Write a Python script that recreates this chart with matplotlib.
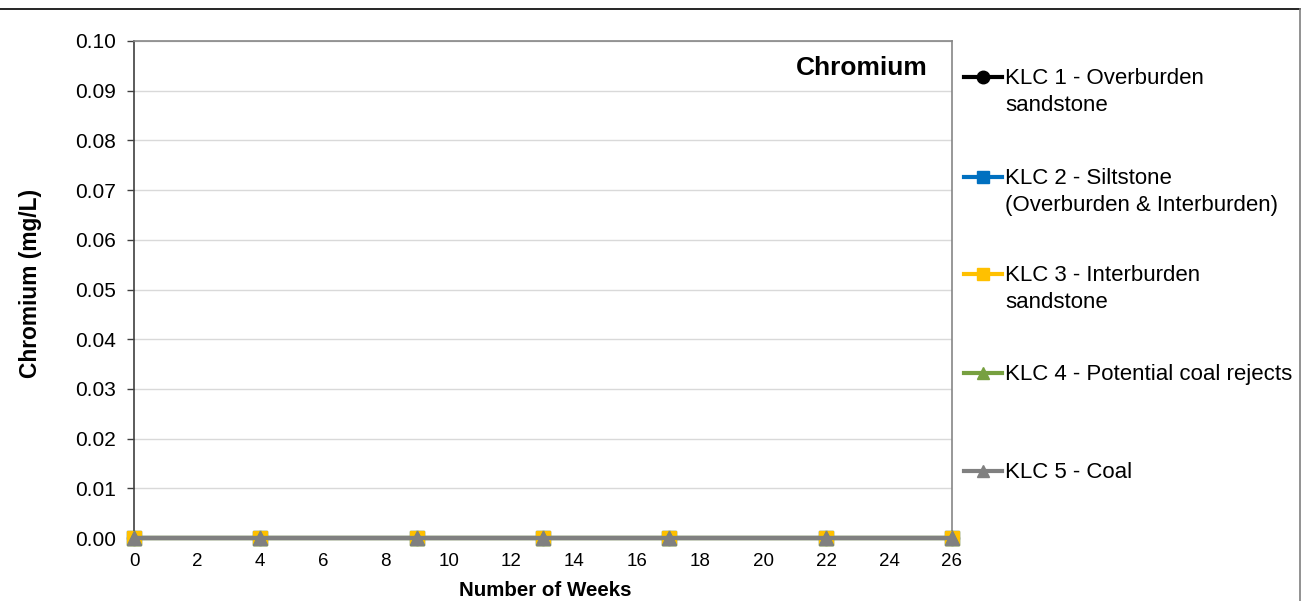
import matplotlib
matplotlib.use("Agg")
import matplotlib.pyplot as plt
from matplotlib.lines import Line2D

plt.rcParams["font.family"] = ["Liberation Sans", "DejaVu Sans"]

# data
weeks = [0, 4, 9, 13, 17, 22, 26]
klc1 = [0, 0, 0, 0, 0, 0, 0]
klc2 = [0, 0, 0, 0, 0, 0, 0]
klc3 = [0, 0, 0, 0, 0, 0, 0]
klc4 = [0, 0, 0, 0, 0, 0, 0]
klc5 = [0, 0, 0, 0, 0, 0, 0]
labels = ["KLC 1 - Overburden\nsandstone",
          "KLC 2 - Siltstone\n(Overburden & Interburden)",
          "KLC 3 - Interburden\nsandstone",
          "KLC 4 - Potential coal rejects",
          "KLC 5 - Coal"]
series = [klc1, klc2, klc3, klc4, klc5]
colors = ["#000000", "#0070C0", "#FFC000", "#77A040", "#808080"]
markers = ["o", "s", "s", "^", "^"]

W, H = 1308, 601
fig = plt.figure(figsize=(W / 100, H / 100), dpi=100)
ax = fig.add_axes([134 / W, 1 - 538 / H, (952 - 134) / W, (538 - 41) / H])

for vals, c, m in zip(series, colors, markers):
    ax.plot(weeks, vals, color=c, marker=m, markersize=10, linewidth=3,
            clip_on=False, zorder=3)

ax.set_xlim(0, 26)
ax.set_ylim(0, 0.10)
ax.set_xticks(range(0, 27, 2))
ax.set_yticks([i / 100 for i in range(11)])
ax.set_yticklabels([f"{i / 100:.2f}" for i in range(11)])
ax.tick_params(axis="x", length=0, labelsize=13.5, pad=11)
ax.tick_params(axis="y", length=5, width=1, color="#404040", labelsize=15, pad=8)
ax.grid(axis="y", color="#D9D9D9", linewidth=1)
ax.set_axisbelow(True)
ax.spines["left"].set_color("#404040")
ax.spines["bottom"].set_color("#808080")
ax.spines["top"].set_color("#868686")
ax.spines["right"].set_color("#868686")
for s in ax.spines.values():
    s.set_linewidth(1.2)

ax.text((928 - 134) / (952 - 134), (538 - 68) / (538 - 41), "Chromium",
        transform=ax.transAxes, ha="right", va="center",
        fontsize=19, fontweight="bold")

ax.set_ylabel("Chromium (mg/L)", fontsize=16.4, fontweight="bold")
ax.yaxis.set_label_coords(-0.113, 0.513)
fig.text(545 / W, 1 - 590 / H, "Number of Weeks", ha="center", va="center",
         fontsize=14.8, fontweight="bold")

# legend, drawn by hand so the marker sits on the first text line
leg_y = [77, 177, 274, 373, 471]
for lab, c, m, y in zip(labels, colors, markers, leg_y):
    yf = 1 - y / H
    fig.add_artist(Line2D([964 / W, 1002 / W], [yf, yf], color=c, linewidth=3,
                          transform=fig.transFigure))
    fig.add_artist(Line2D([983 / W], [yf], color=c, marker=m, markersize=9,
                          transform=fig.transFigure))
    fig.text(1005 / W, yf + 9 / H, lab, ha="left", va="top", fontsize=16,
             linespacing=1.35)

# outer chart border
fig.add_artist(Line2D([0, 1300 / W], [1 - 9 / H, 1 - 9 / H], color="#000000",
                      linewidth=1.2, transform=fig.transFigure))
fig.add_artist(Line2D([1300 / W, 1300 / W], [0, 1 - 9 / H], color="#7F7F7F",
                      linewidth=1.2, transform=fig.transFigure))

fig.savefig("out.png", dpi=100)
